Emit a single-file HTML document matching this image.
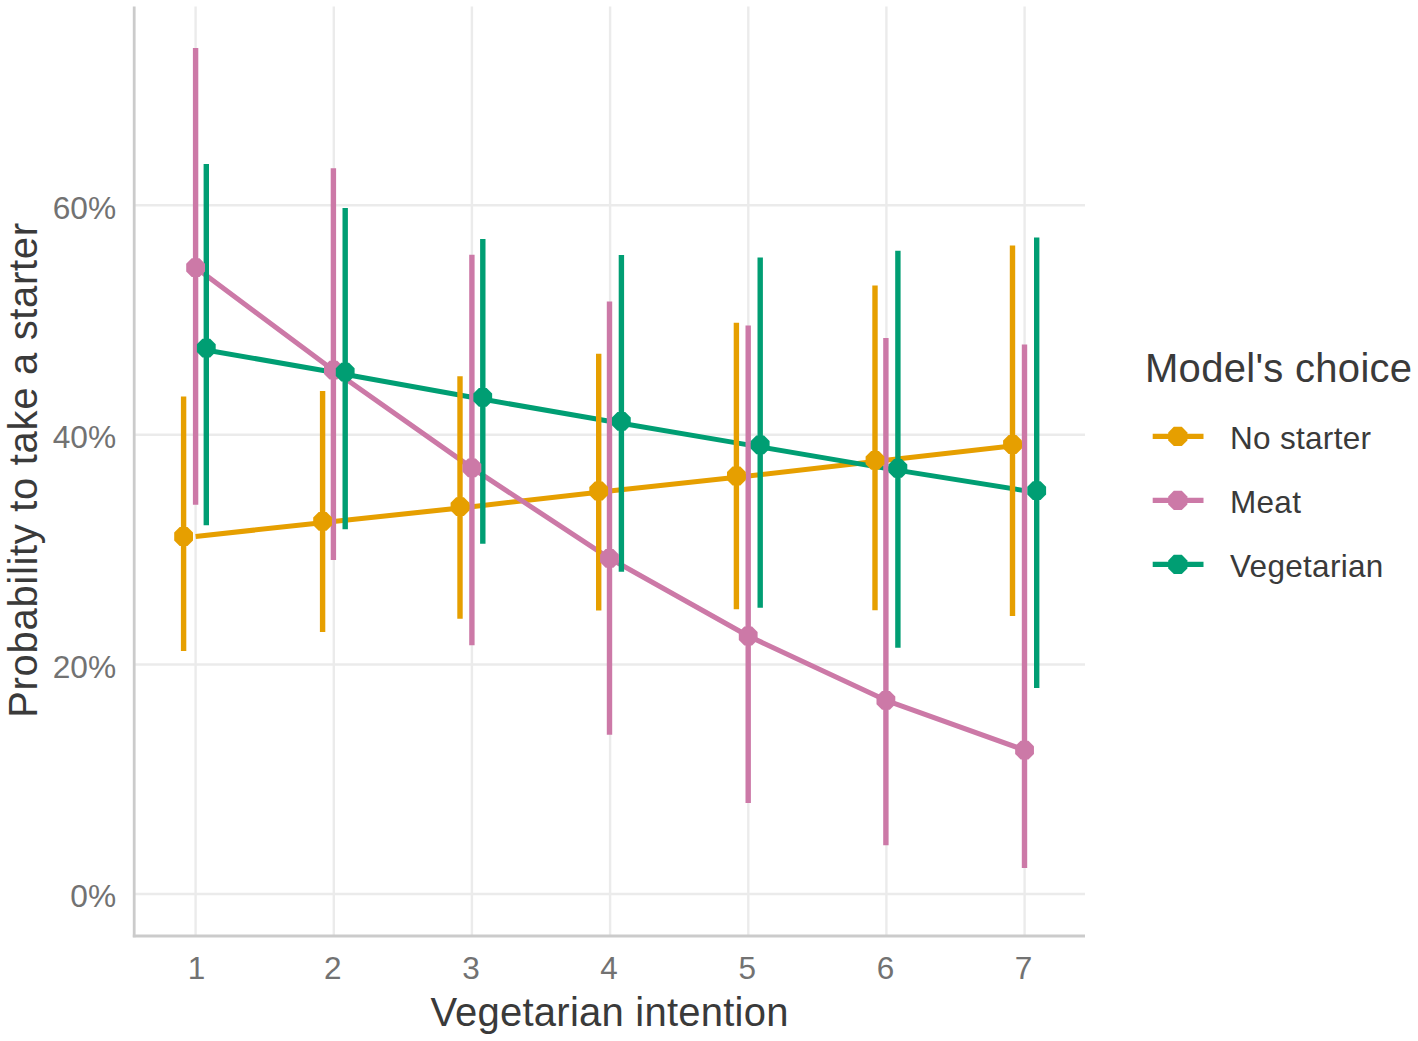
<!DOCTYPE html><html><head><meta charset="utf-8"><style>html,body{margin:0;padding:0;background:#fff;width:1418px;height:1041px;overflow:hidden}svg{display:block}text{font-family:"Liberation Sans",sans-serif}</style></head><body>
<svg width="1418" height="1041" viewBox="0 0 1418 1041">
<rect width="1418" height="1041" fill="#fff"/>
<line x1="134" y1="894.0" x2="1085" y2="894.0" stroke="#EBEBEB" stroke-width="2.4"/>
<line x1="134" y1="664.5" x2="1085" y2="664.5" stroke="#EBEBEB" stroke-width="2.4"/>
<line x1="134" y1="434.8" x2="1085" y2="434.8" stroke="#EBEBEB" stroke-width="2.4"/>
<line x1="134" y1="205.3" x2="1085" y2="205.3" stroke="#EBEBEB" stroke-width="2.4"/>
<line x1="195.6" y1="6.5" x2="195.6" y2="936" stroke="#EBEBEB" stroke-width="2.4"/>
<line x1="333.8" y1="6.5" x2="333.8" y2="936" stroke="#EBEBEB" stroke-width="2.4"/>
<line x1="471.9" y1="6.5" x2="471.9" y2="936" stroke="#EBEBEB" stroke-width="2.4"/>
<line x1="610.1" y1="6.5" x2="610.1" y2="936" stroke="#EBEBEB" stroke-width="2.4"/>
<line x1="748.3" y1="6.5" x2="748.3" y2="936" stroke="#EBEBEB" stroke-width="2.4"/>
<line x1="886.4" y1="6.5" x2="886.4" y2="936" stroke="#EBEBEB" stroke-width="2.4"/>
<line x1="1024.6" y1="6.5" x2="1024.6" y2="936" stroke="#EBEBEB" stroke-width="2.4"/>
<line x1="134.2" y1="6.5" x2="134.2" y2="937.3" stroke="#CBCBCB" stroke-width="2.8"/>
<line x1="132.8" y1="936" x2="1085" y2="936" stroke="#CBCBCB" stroke-width="2.8"/>
<polyline points="195.6,536.5 333.4,521.4 471.9,506.7 609.5,491.0 748.2,476.0 885.9,460.3 1024.5,444.5" fill="none" stroke="#E69F00" stroke-width="5.0" stroke-linejoin="round"/>
<polyline points="195.6,267.6 333.4,370.2 471.9,467.9 609.5,558.3 748.2,636.0 885.9,700.3 1024.5,750.1" fill="none" stroke="#CC79A7" stroke-width="5.0" stroke-linejoin="round"/>
<polyline points="195.6,348.2 333.4,372.2 471.9,397.3 609.5,421.3 748.2,444.9 885.9,468.4 1024.5,490.6" fill="none" stroke="#009E73" stroke-width="5.0" stroke-linejoin="round"/>
<line x1="183.6" y1="396.4" x2="183.6" y2="651.0" stroke="#E69F00" stroke-width="5.4"/>
<line x1="322.6" y1="391.0" x2="322.6" y2="631.9" stroke="#E69F00" stroke-width="5.4"/>
<line x1="460.0" y1="376.2" x2="460.0" y2="618.7" stroke="#E69F00" stroke-width="5.4"/>
<line x1="598.7" y1="353.8" x2="598.7" y2="610.6" stroke="#E69F00" stroke-width="5.4"/>
<line x1="736.4" y1="322.8" x2="736.4" y2="609.3" stroke="#E69F00" stroke-width="5.4"/>
<line x1="875.0" y1="285.5" x2="875.0" y2="610.2" stroke="#E69F00" stroke-width="5.4"/>
<line x1="1012.5" y1="245.6" x2="1012.5" y2="616.0" stroke="#E69F00" stroke-width="5.4"/>
<line x1="195.6" y1="48.0" x2="195.6" y2="504.8" stroke="#CC79A7" stroke-width="5.4"/>
<line x1="333.4" y1="168.2" x2="333.4" y2="559.9" stroke="#CC79A7" stroke-width="5.4"/>
<line x1="471.9" y1="254.8" x2="471.9" y2="645.3" stroke="#CC79A7" stroke-width="5.4"/>
<line x1="609.5" y1="301.6" x2="609.5" y2="734.8" stroke="#CC79A7" stroke-width="5.4"/>
<line x1="748.2" y1="325.4" x2="748.2" y2="802.9" stroke="#CC79A7" stroke-width="5.4"/>
<line x1="885.9" y1="337.9" x2="885.9" y2="845.2" stroke="#CC79A7" stroke-width="5.4"/>
<line x1="1024.5" y1="344.5" x2="1024.5" y2="868.1" stroke="#CC79A7" stroke-width="5.4"/>
<line x1="206.3" y1="164.0" x2="206.3" y2="525.2" stroke="#009E73" stroke-width="5.4"/>
<line x1="345.2" y1="208.1" x2="345.2" y2="529.2" stroke="#009E73" stroke-width="5.4"/>
<line x1="482.8" y1="238.9" x2="482.8" y2="543.8" stroke="#009E73" stroke-width="5.4"/>
<line x1="621.4" y1="255.1" x2="621.4" y2="571.7" stroke="#009E73" stroke-width="5.4"/>
<line x1="760.2" y1="257.6" x2="760.2" y2="607.7" stroke="#009E73" stroke-width="5.4"/>
<line x1="897.9" y1="250.8" x2="897.9" y2="647.7" stroke="#009E73" stroke-width="5.4"/>
<line x1="1036.7" y1="237.5" x2="1036.7" y2="688.0" stroke="#009E73" stroke-width="5.4"/>
<polygon points="193.00,540.39 187.49,545.90 179.71,545.90 174.20,540.39 174.20,532.61 179.71,527.10 187.49,527.10 193.00,532.61" fill="#E69F00"/>
<polygon points="332.00,525.29 326.49,530.80 318.71,530.80 313.20,525.29 313.20,517.51 318.71,512.00 326.49,512.00 332.00,517.51" fill="#E69F00"/>
<polygon points="469.40,510.59 463.89,516.10 456.11,516.10 450.60,510.59 450.60,502.81 456.11,497.30 463.89,497.30 469.40,502.81" fill="#E69F00"/>
<polygon points="608.10,494.89 602.59,500.40 594.81,500.40 589.30,494.89 589.30,487.11 594.81,481.60 602.59,481.60 608.10,487.11" fill="#E69F00"/>
<polygon points="745.80,479.89 740.29,485.40 732.51,485.40 727.00,479.89 727.00,472.11 732.51,466.60 740.29,466.60 745.80,472.11" fill="#E69F00"/>
<polygon points="884.40,464.19 878.89,469.70 871.11,469.70 865.60,464.19 865.60,456.41 871.11,450.90 878.89,450.90 884.40,456.41" fill="#E69F00"/>
<polygon points="1021.90,448.39 1016.39,453.90 1008.61,453.90 1003.10,448.39 1003.10,440.61 1008.61,435.10 1016.39,435.10 1021.90,440.61" fill="#E69F00"/>
<polygon points="205.00,271.49 199.49,277.00 191.71,277.00 186.20,271.49 186.20,263.71 191.71,258.20 199.49,258.20 205.00,263.71" fill="#CC79A7"/>
<polygon points="342.80,374.09 337.29,379.60 329.51,379.60 324.00,374.09 324.00,366.31 329.51,360.80 337.29,360.80 342.80,366.31" fill="#CC79A7"/>
<polygon points="481.30,471.79 475.79,477.30 468.01,477.30 462.50,471.79 462.50,464.01 468.01,458.50 475.79,458.50 481.30,464.01" fill="#CC79A7"/>
<polygon points="618.90,562.19 613.39,567.70 605.61,567.70 600.10,562.19 600.10,554.41 605.61,548.90 613.39,548.90 618.90,554.41" fill="#CC79A7"/>
<polygon points="757.60,639.89 752.09,645.40 744.31,645.40 738.80,639.89 738.80,632.11 744.31,626.60 752.09,626.60 757.60,632.11" fill="#CC79A7"/>
<polygon points="895.30,704.19 889.79,709.70 882.01,709.70 876.50,704.19 876.50,696.41 882.01,690.90 889.79,690.90 895.30,696.41" fill="#CC79A7"/>
<polygon points="1033.95,753.99 1028.44,759.50 1020.66,759.50 1015.15,753.99 1015.15,746.21 1020.66,740.70 1028.44,740.70 1033.95,746.21" fill="#CC79A7"/>
<polygon points="215.70,352.09 210.19,357.60 202.41,357.60 196.90,352.09 196.90,344.31 202.41,338.80 210.19,338.80 215.70,344.31" fill="#009E73"/>
<polygon points="354.60,376.09 349.09,381.60 341.31,381.60 335.80,376.09 335.80,368.31 341.31,362.80 349.09,362.80 354.60,368.31" fill="#009E73"/>
<polygon points="492.15,401.19 486.64,406.70 478.86,406.70 473.35,401.19 473.35,393.41 478.86,387.90 486.64,387.90 492.15,393.41" fill="#009E73"/>
<polygon points="630.75,425.19 625.24,430.70 617.46,430.70 611.95,425.19 611.95,417.41 617.46,411.90 625.24,411.90 630.75,417.41" fill="#009E73"/>
<polygon points="769.60,448.79 764.09,454.30 756.31,454.30 750.80,448.79 750.80,441.01 756.31,435.50 764.09,435.50 769.60,441.01" fill="#009E73"/>
<polygon points="907.30,472.29 901.79,477.80 894.01,477.80 888.50,472.29 888.50,464.51 894.01,459.00 901.79,459.00 907.30,464.51" fill="#009E73"/>
<polygon points="1046.10,494.49 1040.59,500.00 1032.81,500.00 1027.30,494.49 1027.30,486.71 1032.81,481.20 1040.59,481.20 1046.10,486.71" fill="#009E73"/>
<text x="116.1" y="907.4" font-size="31.7" fill="#727272" text-anchor="end">0%</text>
<text x="116.1" y="677.9" font-size="31.7" fill="#727272" text-anchor="end">20%</text>
<text x="116.1" y="448.2" font-size="31.7" fill="#727272" text-anchor="end">40%</text>
<text x="116.1" y="218.7" font-size="31.7" fill="#727272" text-anchor="end">60%</text>
<text x="196.4" y="979.4" font-size="31.5" fill="#727272" text-anchor="middle">1</text>
<text x="332.8" y="979.4" font-size="31.5" fill="#727272" text-anchor="middle">2</text>
<text x="470.9" y="979.4" font-size="31.5" fill="#727272" text-anchor="middle">3</text>
<text x="609.1" y="979.4" font-size="31.5" fill="#727272" text-anchor="middle">4</text>
<text x="747.3" y="979.4" font-size="31.5" fill="#727272" text-anchor="middle">5</text>
<text x="885.4" y="979.4" font-size="31.5" fill="#727272" text-anchor="middle">6</text>
<text x="1023.6" y="979.4" font-size="31.5" fill="#727272" text-anchor="middle">7</text>
<text x="609.5" y="1026" font-size="40" fill="#3A3A3A" letter-spacing="0.23" text-anchor="middle">Vegetarian intention</text>
<text transform="translate(36.5,470) rotate(-90)" x="0" y="0" font-size="40" fill="#3A3A3A" letter-spacing="0.68" text-anchor="middle">Probability to take a starter</text>
<text x="1145" y="382" font-size="40" fill="#3A3A3A" letter-spacing="0.29">Model's choice</text>
<line x1="1152.7" y1="436.4" x2="1203.5" y2="436.4" stroke="#E69F00" stroke-width="5.4"/>
<polygon points="1187.40,440.38 1181.78,446.00 1173.82,446.00 1168.20,440.38 1168.20,432.42 1173.82,426.80 1181.78,426.80 1187.40,432.42" fill="#E69F00"/>
<text x="1230" y="449.3" font-size="31.5" fill="#3A3A3A" letter-spacing="0.3">No starter</text>
<line x1="1152.7" y1="500.4" x2="1203.5" y2="500.4" stroke="#CC79A7" stroke-width="5.4"/>
<polygon points="1187.40,504.38 1181.78,510.00 1173.82,510.00 1168.20,504.38 1168.20,496.42 1173.82,490.80 1181.78,490.80 1187.40,496.42" fill="#CC79A7"/>
<text x="1230" y="513.3" font-size="31.5" fill="#3A3A3A" letter-spacing="0.3">Meat</text>
<line x1="1152.7" y1="564.4" x2="1203.5" y2="564.4" stroke="#009E73" stroke-width="5.4"/>
<polygon points="1187.40,568.38 1181.78,574.00 1173.82,574.00 1168.20,568.38 1168.20,560.42 1173.82,554.80 1181.78,554.80 1187.40,560.42" fill="#009E73"/>
<text x="1230" y="577.3" font-size="31.5" fill="#3A3A3A" letter-spacing="0.3">Vegetarian</text>
</svg></body></html>
